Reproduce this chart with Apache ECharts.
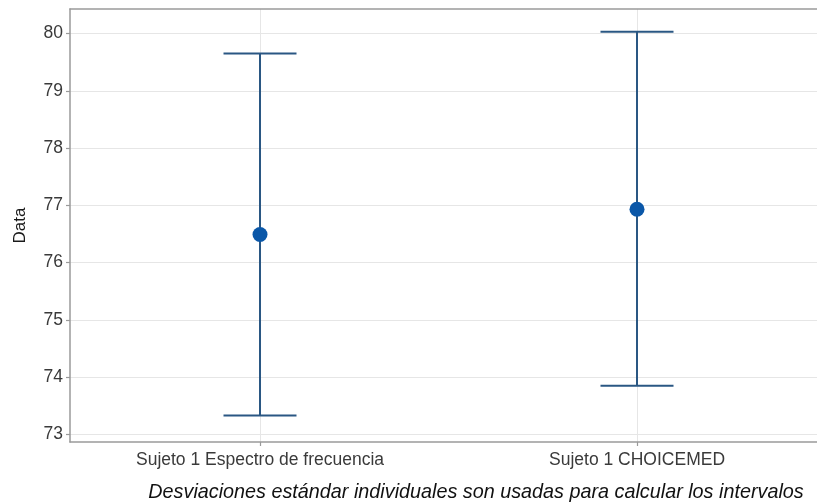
<!DOCTYPE html>
<html>
<head>
<meta charset="utf-8">
<script src="https://cdn.jsdelivr.net/npm/echarts@6/dist/echarts.min.js"></script>
<style>
  html, body { margin: 0; padding: 0; background: #ffffff; }
  #chart { width: 817px; height: 504px; }
</style>
</head>
<body>
<div id="chart"></div>
<script>
// Group labels and their positions on the x scale
const categories = ['Sujeto 1 Espectro de frecuencia', 'Sujeto 1 CHOICEMED'];
const xPositions = [1, 2];

// Means and interval limits (individual standard deviations)
const means = [76.49, 76.93];
const lowerBounds = [73.33, 73.85];
const upperBounds = [79.65, 80.03];

// Tick values of the y axis
const yTicks = [73, 74, 75, 76, 77, 78, 79, 80];

const FONT = 'Liberation Sans, Arial, sans-serif';
const BAR_COLOR = '#2a5783';
const POINT_COLOR = '#0a57a8';
const FRAME_COLOR = '#9a9a9a';
const GRID_COLOR = '#e6e6e6';
const CAP_HALF = 36.5;
const X_MIN = 0.496;
const X_MAX = 2.5;

const intervalData = xPositions.map((x, i) => [x, lowerBounds[i], upperBounds[i]]);
const pointData = xPositions.map((x, i) => [x, means[i]]);

const chart = echarts.init(document.getElementById('chart'), null, { renderer: 'canvas' });

chart.setOption({
  animation: false,
  backgroundColor: '#ffffff',
  title: {
    text: 'Desviaciones estándar individuales son usadas para calcular los intervalos',
    left: 471,
    top: 477,
    textAlign: 'center',
    textStyle: {
      fontFamily: FONT,
      fontStyle: 'italic',
      fontWeight: 'normal',
      fontSize: 19.8,
      color: '#111111'
    }
  },
  grid: {
    left: 70,
    top: 9,
    right: -8.5,
    bottom: 62,
    outerBoundsMode: 'none',
    containLabel: false,
    show: false
  },
  xAxis: [
    {
      type: 'value',
      min: X_MIN,
      max: X_MAX,
      axisLine: { show: true, lineStyle: { color: FRAME_COLOR, width: 1.5 } },
      axisTick: { show: true, length: 4, customValues: xPositions, lineStyle: { color: FRAME_COLOR, width: 1.2 } },
      axisLabel: {
        customValues: xPositions,
        margin: 9,
        fontFamily: FONT,
        fontSize: 17.5,
        color: '#3a3a3a',
        formatter: v => categories[xPositions.indexOf(Math.round(v))] || ''
      },
      splitLine: { show: true, lineStyle: { color: GRID_COLOR, width: 1 } }
    },
    {
      // top edge of the panel frame
      type: 'value',
      position: 'top',
      min: X_MIN,
      max: X_MAX,
      axisLine: { show: true, lineStyle: { color: FRAME_COLOR, width: 1.5 } },
      axisTick: { show: false },
      axisLabel: { show: false },
      splitLine: { show: false }
    }
  ],
  yAxis: {
    type: 'value',
    min: 72.866,
    max: 80.428,
    name: 'Data',
    nameLocation: 'middle',
    nameGap: 41,
    nameTextStyle: { fontFamily: FONT, fontSize: 17, color: '#1a1a1a' },
    axisLine: { show: true, lineStyle: { color: FRAME_COLOR, width: 1.5 } },
    axisTick: { show: true, length: 4, customValues: yTicks, lineStyle: { color: FRAME_COLOR, width: 1.2 } },
    axisLabel: {
      customValues: yTicks,
      margin: 7,
      fontFamily: FONT,
      fontSize: 17.5,
      color: '#3a3a3a'
    },
    splitLine: { show: true, lineStyle: { color: GRID_COLOR, width: 1 } }
  },
  series: [
    {
      type: 'custom',
      name: 'intervalo',
      data: intervalData,
      z: 2,
      renderItem: (params, api) => {
        const x = api.value(0);
        const top = api.coord([x, api.value(2)]);
        const bot = api.coord([x, api.value(1)]);
        const style = { stroke: BAR_COLOR, lineWidth: 2, fill: null };
        return {
          type: 'group',
          children: [
            { type: 'line', shape: { x1: top[0], y1: top[1], x2: bot[0], y2: bot[1] }, style },
            { type: 'line', shape: { x1: top[0] - CAP_HALF, y1: top[1], x2: top[0] + CAP_HALF, y2: top[1] }, style },
            { type: 'line', shape: { x1: bot[0] - CAP_HALF, y1: bot[1], x2: bot[0] + CAP_HALF, y2: bot[1] }, style }
          ]
        };
      }
    },
    {
      type: 'scatter',
      name: 'media',
      data: pointData,
      z: 3,
      symbol: 'circle',
      symbolSize: 15,
      itemStyle: { color: POINT_COLOR, opacity: 1 }
    }
  ]
});
</script>
</body>
</html>
